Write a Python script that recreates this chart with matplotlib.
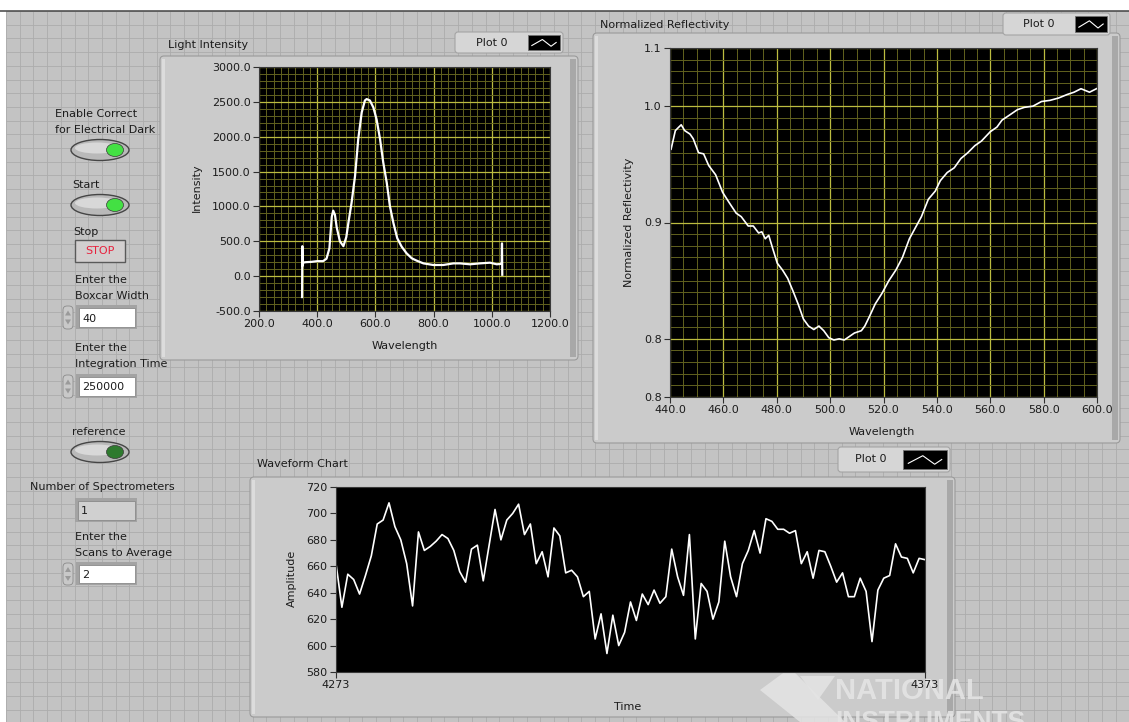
import numpy as np
import matplotlib.pyplot as plt
from matplotlib.patches import FancyBboxPatch, Rectangle, Ellipse, Polygon
from matplotlib.ticker import MultipleLocator, FormatStrFormatter

W, H = 1129, 722

# ---- Light Intensity spectrum (wavelength nm, counts)
light_wl = [348, 349, 350, 352, 360, 380, 400, 420, 432, 442, 450, 455, 461, 467,
            478, 490, 500, 507, 518, 530, 541, 553, 564, 570, 581, 593, 604, 616,
            627, 639, 650, 662, 675, 690, 707, 725, 742, 765, 799, 833, 868, 891,
            925, 959, 994, 1017, 1030, 1034, 1035, 1036]
light_int = [-300, 430, 150, 195, 200, 205, 215, 215, 250, 400, 850, 940, 880, 700,
             500, 430, 560, 760, 1050, 1435, 1965, 2350, 2520, 2540, 2520, 2420, 2250, 1965,
             1630, 1340, 1000, 760, 545, 424, 328, 256, 222, 183, 160, 160, 183, 183,
             170, 183, 193, 170, 175, 180, 470, 20]

# ---- Normalized reflectivity
refl_wl = [440.4, 442, 443.3, 444.2, 445.5, 447.5, 448.7, 450.7, 452.6, 454.5, 457.1,
           459.7, 462.2, 464.8, 466.7, 469.3, 471.2, 473.2, 474.4, 475.7, 477, 478.3,
           480.2, 482.2, 484.1, 486.1, 488, 490, 491.9, 493.9, 495.8, 497.6, 499.5,
           501.4, 503.4, 505.3, 507.2, 509.1, 511.7, 513, 514.9, 516.9, 519.4, 522,
           524.6, 527.1, 529.7, 532.3, 534.2, 536.8, 539.4, 541.3, 543.9, 546.5, 549,
           551.6, 554.2, 556.7, 560, 562.5, 564.4, 567, 570.2, 572.8, 576, 579.2,
           582.4, 585.6, 588.8, 591.4, 594, 597.2, 599.8]
refl_val = [0.963, 0.979, 0.982, 0.984, 0.979, 0.976, 0.972, 0.960, 0.959, 0.949, 0.941,
            0.926, 0.917, 0.908, 0.905, 0.897, 0.897, 0.891, 0.892, 0.886, 0.889, 0.879,
            0.865, 0.859, 0.852, 0.841, 0.830, 0.817, 0.811, 0.808, 0.811, 0.807, 0.801,
            0.799, 0.800, 0.799, 0.802, 0.805, 0.807, 0.811, 0.820, 0.830, 0.839, 0.850,
            0.859, 0.870, 0.886, 0.897, 0.905, 0.920, 0.927, 0.936, 0.943, 0.947, 0.955,
            0.960, 0.966, 0.970, 0.978, 0.982, 0.988, 0.992, 0.997, 0.999, 1.000, 1.004,
            1.005, 1.007, 1.010, 1.012, 1.015, 1.012, 1.015]
refl_ticks = [0.75, 0.8, 0.9, 1.0, 1.05]
refl_tick_labels = ['0.8', '0.8', '0.9', '1.0', '1.1']

# ---- Waveform chart, samples 4273..4373
wave_t0, wave_t1 = 4273, 4373
wave_amp = [662, 629, 654, 650, 639, 653, 668, 692, 695, 708,
            690, 680, 662, 630, 686, 672, 675, 679, 684, 681,
            672, 656, 648, 673, 676, 649, 676, 703, 680, 695,
            700, 707, 684, 692, 662, 671, 652, 689, 683, 655,
            657, 652, 637, 641, 605, 624, 594, 623, 600, 610,
            633, 619, 639, 631, 642, 632, 637, 673, 652, 638,
            684, 605, 647, 641, 620, 633, 679, 652, 637, 662,
            672, 687, 670, 696, 694, 688, 688, 685, 687, 662,
            671, 651, 672, 671, 660, 648, 655, 637, 637, 651,
            641, 603, 642, 651, 653, 677, 667, 666, 655, 666, 665]

FONT = 'DejaVu Sans'
TXT = '#1c1c1c'
MAJ = '#bcbc40'
MIN = '#62621e'

fig = plt.figure(figsize=(W / 100, H / 100), dpi=100)
bg = fig.add_axes([0, 0, 1, 1])
bg.set_xlim(0, W)
bg.set_ylim(H, 0)
bg.axis('off')

# front panel background with its grid
bg.add_patch(Rectangle((0, 0), W, H, fc='white', ec='none', zorder=0))
bg.add_patch(Rectangle((6, 11), W, H, fc='#c3c3c3', ec='none', zorder=0.1))
bg.vlines(np.arange(6, W, 13.7), 11, H, color='#acacac', lw=0.6, zorder=0.2)
bg.hlines(np.arange(11, H, 13.7), 6, W, color='#acacac', lw=0.6, zorder=0.2)
bg.hlines(11, 0, W, color='#505050', lw=1.2, zorder=0.3)


def label(x, y, s, **kw):
    kw.setdefault('ha', 'left')
    bg.text(x, y, s, fontsize=8, family=FONT, color=TXT, va='center', zorder=6, **kw)


def panel(x0, y0, x1, y1):
    bg.add_patch(FancyBboxPatch((x0, y0), x1 - x0, y1 - y0,
                                boxstyle='round,pad=0,rounding_size=4',
                                fc='#cbcbcb', ec='#9a9a9a', lw=0.8, zorder=2))
    bg.add_patch(Rectangle((x1 - 8, y0 + 3), 6, y1 - y0 - 6, fc='#a8a8a8', ec='none', zorder=2.1))
    bg.add_patch(Rectangle((x0 + 2, y0 + 3), 3, y1 - y0 - 6, fc='#dcdcdc', ec='none', zorder=2.1))


def legend_box(x0, y0, x1, y1, ix0):
    bg.add_patch(FancyBboxPatch((x0, y0), x1 - x0, y1 - y0,
                                boxstyle='round,pad=0,rounding_size=3',
                                fc='#d6d6d6', ec='#a4a4a4', lw=0.8, zorder=3))
    label((x0 + ix0) / 2, (y0 + y1) / 2, 'Plot 0', ha='center')
    bg.add_patch(Rectangle((ix0, y0 + 3), x1 - ix0 - 3, y1 - y0 - 6, fc='black', ec='#707070', lw=0.6, zorder=4))
    w = x1 - ix0 - 3
    h = y1 - y0 - 6
    xs = [ix0 + 0.12 * w, ix0 + 0.45 * w, ix0 + 0.72 * w, ix0 + 0.88 * w]
    ys = [y0 + 3 + 0.7 * h, y0 + 3 + 0.3 * h, y0 + 3 + 0.75 * h, y0 + 3 + 0.5 * h]
    bg.plot(xs, ys, color='white', lw=0.8, zorder=5)


def led(cx, cy, color):
    bg.add_patch(Ellipse((cx, cy), 58, 21, fc='#b9b9b9', ec='#454545', lw=1.0, zorder=3))
    bg.add_patch(Ellipse((cx - 3, cy - 2), 44, 11, fc='#d8d8d8', ec='none', zorder=3.1))
    bg.add_patch(Ellipse((cx + 15, cy), 17, 13, fc=color, ec='#3a3a3a', lw=0.5, zorder=3.2))


def numeric(x0, y0, x1, y1, s, spin=True, face='white'):
    bg.add_patch(Rectangle((x0 - 3, y0 - 3), x1 - x0 + 5, y1 - y0 + 5, fc='#a3a3a3', ec='none', zorder=3))
    bg.add_patch(Rectangle((x0, y0), x1 - x0, y1 - y0, fc=face, ec='#8a8a8a', lw=0.6, zorder=3.1))
    label(x0 + 3, (y0 + y1) / 2 + 1, s)
    if spin:
        bg.add_patch(FancyBboxPatch((x0 - 16, y0 - 2), 10, y1 - y0 + 4,
                                    boxstyle='round,pad=0,rounding_size=4',
                                    fc='#c8c8c8', ec='#8a8a8a', lw=0.6, zorder=3))
        my = (y0 + y1) / 2
        bg.add_patch(Polygon([[x0 - 14, my - 2], [x0 - 11, my - 7], [x0 - 8, my - 2]],
                             fc='#9a9a9a', ec='none', zorder=3.2))
        bg.add_patch(Polygon([[x0 - 14, my + 2], [x0 - 11, my + 7], [x0 - 8, my + 2]],
                             fc='#9a9a9a', ec='none', zorder=3.2))


# ---- left controls
label(55, 114, 'Enable Correct')
label(55, 130, 'for Electrical Dark')
led(100, 150, '#43e043')
label(72, 185, 'Start')
led(100, 205, '#43e043')
label(73, 232, 'Stop')
bg.add_patch(Rectangle((75, 240), 50, 22, fc='#d2cfcf', ec='#5a5a5a', lw=1.0, zorder=3))
bg.text(100, 251, 'STOP', fontsize=8, family=FONT, color='#e8203c', ha='center', va='center', zorder=6)
label(75, 280, 'Enter the')
label(75, 296, 'Boxcar Width')
numeric(79, 308, 135, 327, '40')
label(75, 348, 'Enter the')
label(75, 364, 'Integration Time')
numeric(79, 377, 135, 396, '250000')
label(72, 432, 'reference')
led(100, 452, '#2e7a2e')
label(30, 487, 'Number of Spectrometers')
numeric(78, 501, 135, 520, '1', spin=False, face='#d0d0d0')
label(75, 537, 'Enter the')
label(75, 553, 'Scans to Average')
numeric(79, 565, 135, 583, '2')

# ---- graph frames
panel(160, 56, 578, 360)
label(168, 45, 'Light Intensity')
legend_box(455, 32, 563, 53, 528)
label(197, 188, 'Intensity', rotation=90, ha='center')
label(405, 346, 'Wavelength', ha='center')

panel(593, 33, 1120, 443)
label(600, 25, 'Normalized Reflectivity')
legend_box(1003, 13, 1110, 35, 1075)
label(629, 222, 'Normalized Reflectivity', rotation=90, ha='center')
label(882, 432, 'Wavelength', ha='center')

panel(250, 477, 955, 717)
label(257, 464, 'Waveform Chart')
legend_box(838, 447, 950, 472, 903)
label(292, 578, 'Amplitude', rotation=90, ha='center')
label(628, 707, 'Time', ha='center')

# ---- NI watermark
bg.add_patch(Polygon([[760, 690], [790, 668], [845, 722], [800, 722]], fc='#e4e4e4', ec='none', alpha=0.85, zorder=7))
bg.add_patch(Polygon([[800, 676], [835, 676], [818, 700]], fc='#e4e4e4', ec='none', alpha=0.85, zorder=7))
bg.text(835, 691, 'NATIONAL', fontsize=21, fontweight='bold', family='Liberation Sans',
        color='#e6e6e6', alpha=0.85, ha='left', va='center', zorder=7)
bg.text(835, 722, 'INSTRUMENTS', fontsize=19, fontweight='bold', family='Liberation Sans',
        color='#e6e6e6', alpha=0.85, ha='left', va='center', zorder=7)


def px_axes(l, t, r, b):
    return fig.add_axes([l / W, 1 - b / H, (r - l) / W, (b - t) / H])


def style(ax):
    ax.set_facecolor('black')
    for sp in ax.spines.values():
        sp.set_color('#3a3a3a')
        sp.set_linewidth(0.8)
    ax.tick_params(which='major', direction='out', length=4, width=0.8, color='#303030',
                   labelsize=8, labelcolor=TXT, pad=2)
    ax.tick_params(which='minor', length=0)
    for t in ax.get_xticklabels() + ax.get_yticklabels():
        t.set_family(FONT)


# Light Intensity
ax1 = px_axes(259, 67, 550, 311)
ax1.plot(light_wl, light_int, color='white', lw=1.6)
ax1.set_xlim(200, 1200)
ax1.set_ylim(-500, 3000)
ax1.xaxis.set_major_locator(MultipleLocator(200))
ax1.xaxis.set_minor_locator(MultipleLocator(25))
ax1.yaxis.set_major_locator(MultipleLocator(500))
ax1.yaxis.set_minor_locator(MultipleLocator(100))
ax1.xaxis.set_major_formatter(FormatStrFormatter('%.1f'))
ax1.yaxis.set_major_formatter(FormatStrFormatter('%.1f'))
ax1.grid(which='minor', color=MIN, lw=0.7)
ax1.grid(which='major', color=MAJ, lw=0.9)
style(ax1)

# Normalized Reflectivity
ax2 = px_axes(670, 48, 1097, 397)
ax2.plot(refl_wl, refl_val, color='white', lw=1.2)
ax2.set_xlim(440, 600)
ax2.set_ylim(0.75, 1.05)
ax2.xaxis.set_major_locator(MultipleLocator(20))
ax2.xaxis.set_minor_locator(MultipleLocator(5))
ax2.xaxis.set_major_formatter(FormatStrFormatter('%.1f'))
ax2.set_yticks(refl_ticks)
ax2.set_yticklabels(refl_tick_labels)
ax2.yaxis.set_minor_locator(MultipleLocator(0.01))
ax2.grid(which='minor', color=MIN, lw=0.7)
ax2.grid(which='major', color=MAJ, lw=0.9)
style(ax2)

# Waveform chart
ax3 = px_axes(336, 487, 925, 672)
ax3.plot(np.arange(wave_t0, wave_t1 + 1), wave_amp, color='white', lw=1.2)
ax3.set_xlim(wave_t0, wave_t1)
ax3.set_ylim(580, 720)
ax3.set_xticks([wave_t0, wave_t1])
ax3.yaxis.set_major_locator(MultipleLocator(20))
style(ax3)

fig.savefig('out.png', dpi=100)
